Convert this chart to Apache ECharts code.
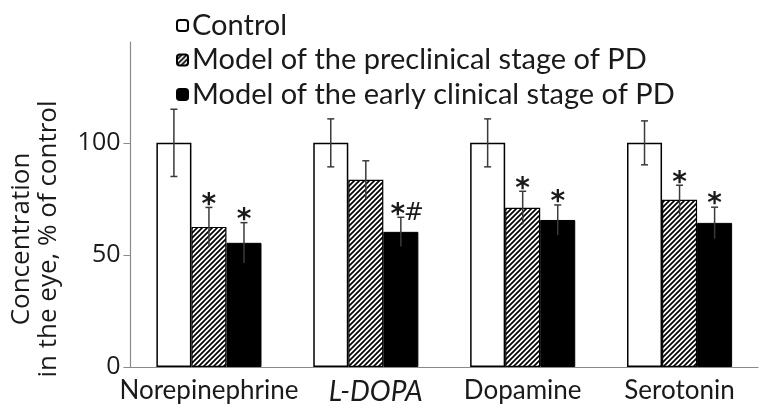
<!DOCTYPE html>
<html>
<head>
<meta charset="utf-8">
<script src="https://cdn.jsdelivr.net/npm/echarts@6/dist/echarts.min.js"></script>
<style>
html,body{margin:0;padding:0;background:#fff;}
#chart{width:776px;height:419px;}
</style>
</head>
<body>
<div id="chart"></div>
<script>
// ---- data ----
const categories = ['Norepinephrine', 'L-DOPA', 'Dopamine', 'Serotonin'];
const seriesNames = ['Control', 'Model of the preclinical stage of PD', 'Model of the early clinical stage of PD'];
const controlValues = [100, 100, 100, 100];
const controlErrors = [15, 10.7, 10.7, 9.8];
const preclinicalValues = [62.5, 83.5, 71, 74.6];
const preclinicalErrors = [8.7, 8.5, 7.4, 6.5];
const earlyValues = [55.4, 60.3, 65.6, 64.3];
const earlyErrors = [9, 6.5, 6.7, 7];
const controlMarks = ['', '', '', ''];
const preclinicalMarks = ['*', '', '*', '*'];
const earlyMarks = ['*', '*#', '*', '*'];
const yTicks = [0, 50, 100];

// ---- hatch pattern ----
function makeHatch() {
  const s = 5;
  const c = document.createElement('canvas');
  c.width = s; c.height = s;
  const g = c.getContext('2d');
  g.fillStyle = '#fff';
  g.fillRect(0, 0, s, s);
  g.strokeStyle = '#000';
  g.lineWidth = 1.7;
  g.beginPath();
  g.moveTo(-1, s + 1); g.lineTo(s + 1, -1);
  g.moveTo(-1, 1); g.lineTo(1, -1);
  g.moveTo(s - 1, s + 1); g.lineTo(s + 1, s - 1);
  g.stroke();
  return c;
}
const hatch = { image: makeHatch(), repeat: 'repeat' };

const CAT_GAP = 0.33;
const groups = [
  { vals: controlValues, errs: controlErrors, marks: controlMarks },
  { vals: preclinicalValues, errs: preclinicalErrors, marks: preclinicalMarks },
  { vals: earlyValues, errs: earlyErrors, marks: earlyMarks }
];
const errData = [];
groups.forEach((g, si) => {
  g.vals.forEach((v, ci) => errData.push([ci, v, g.errs[ci], si, g.marks[ci]]));
});

const TXT = '#1a1a1a';
const chart = echarts.init(document.getElementById('chart'), null, { renderer: 'canvas' });
const option = {
  animation: false,
  backgroundColor: '#fff',
  grid: { left: 130.5, right: 18, top: 42, bottom: 52 },
  legend: {
    orient: 'vertical',
    left: 171,
    top: 6,
    itemWidth: 11,
    itemHeight: 11,
    itemGap: 5.5,
    data: seriesNames,
    textStyle: { fontFamily: 'Lato', fontSize: 29, color: TXT, lineHeight: 29, padding: [0, 0, 0, -1] }
  },
  xAxis: {
    type: 'category',
    data: categories,
    axisLine: { lineStyle: { color: '#8a8a8a', width: 1.2 } },
    axisTick: { show: false },
    axisLabel: {
      interval: 0,
      margin: 11,
      fontFamily: 'Lato', fontSize: 26, color: TXT,
      formatter: v => v === 'L-DOPA' ? '{i|' + v + '}' : v,
      rich: { i: { fontFamily: 'Lato', fontSize: 28, fontStyle: 'italic', color: TXT, padding: [0, 0, 0, 20] } }
    }
  },
  yAxis: {
    type: 'value',
    min: 0, max: 145, interval: 50,
    splitLine: { show: false },
    axisLine: { show: true, lineStyle: { color: '#8a8a8a', width: 1.2 } },
    axisTick: { show: true, length: 7, customValues: yTicks, lineStyle: { color: '#8a8a8a' } },
    axisLabel: { customValues: yTicks, margin: 10, fontFamily: 'Open Sans', fontSize: 25, color: TXT }
  },
  graphic: [{
    type: 'text',
    x: 35, y: 239,
    rotation: Math.PI / 2,
    style: {
      text: 'Concentration\nin the eye, % of control',
      fontFamily: 'Open Sans', fontSize: 26, lineHeight: 27,
      fill: TXT, align: 'center', verticalAlign: 'middle'
    }
  }],
  series: [
    {
      name: seriesNames[0], type: 'bar', data: controlValues,
      barGap: 0, barCategoryGap: (CAT_GAP * 100) + '%',
      itemStyle: { color: '#fff', borderColor: '#000', borderWidth: 1.5 }
    },
    {
      name: seriesNames[1], type: 'bar', data: preclinicalValues,
      barGap: 0, barCategoryGap: (CAT_GAP * 100) + '%',
      itemStyle: { color: hatch, borderColor: '#000', borderWidth: 1.2 }
    },
    {
      name: seriesNames[2], type: 'bar', data: earlyValues,
      barGap: 0, barCategoryGap: (CAT_GAP * 100) + '%',
      itemStyle: { color: '#000', borderColor: '#000', borderWidth: 1 }
    },
    {
      type: 'custom',
      data: errData,
      z: 10,
      silent: true,
      renderItem: function (params, api) {
        const ci = api.value(0), v = api.value(1), e = api.value(2), si = api.value(3);
        const mark = errData[params.dataIndex][4];
        const catW = api.size([1, 0])[0];
        const barW = catW * (1 - CAT_GAP) / 3;
        const base = api.coord([ci, v]);
        const x = base[0] + (si - 1) * barW;
        const top = api.coord([ci, v + e])[1];
        const bot = api.coord([ci, v - e])[1];
        const cap = 3.5;
        const ls = { stroke: '#3a3a3a', lineWidth: 1.5 };
        const children = [
          { type: 'line', shape: { x1: x, y1: top, x2: x, y2: bot }, style: ls },
          { type: 'line', shape: { x1: x - cap, y1: top, x2: x + cap, y2: top }, style: ls }
        ];
        if (si === 0) {
          children.push({ type: 'line', shape: { x1: x - cap, y1: bot, x2: x + cap, y2: bot }, style: ls });
        }
        if (mark) {
          const hasHash = mark.indexOf('#') >= 0;
          const sx = hasHash ? x - 3 : x;
          children.push({
            type: 'text', x: sx, y: top - 2,
            style: { text: '*', fontFamily: 'DejaVu Sans', fontWeight: 'bold', fontSize: 28,
                     fill: TXT, align: 'center', verticalAlign: 'middle' }
          });
          if (hasHash) {
            children.push({
              type: 'text', x: sx + 16, y: top - 4,
              style: { text: '#', fontFamily: 'DejaVu Sans', fontSize: 24,
                       fill: TXT, align: 'center', verticalAlign: 'middle' }
            });
          }
        }
        return { type: 'group', children: children };
      }
    }
  ]
};
chart.setOption(option);
</script>
</body>
</html>
